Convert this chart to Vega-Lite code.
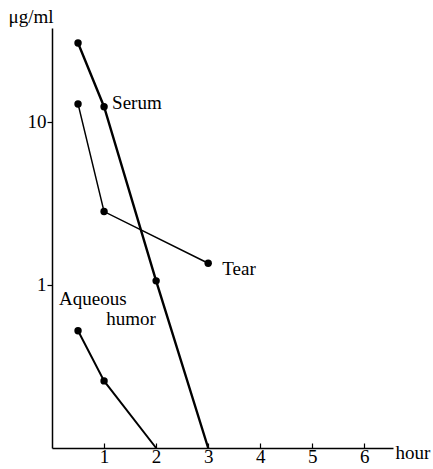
{
  "$schema": "https://vega.github.io/schema/vega-lite/v6.json",
  "width": 341,
  "height": 420,
  "autosize": {"type": "none"},
  "padding": {"left": 52, "top": 28, "right": 40, "bottom": 21},
  "background": "white",
  "config": {
    "view": {"stroke": null},
    "font": "Liberation Serif",
    "axis": {"grid": false, "domainColor": "black", "domainWidth": 1.5, "tickColor": "black", "tickWidth": 1.2, "labelColor": "black", "labelFont": "Liberation Serif", "labelFontSize": 19, "titleFont": "Liberation Serif", "titleFontSize": 19, "titleFontWeight": "normal", "titleColor": "black"}
  },
  "datasets": {
    "series": [
      {"series": "Serum", "hour": 0.5, "conc": 30.5},
      {"series": "Serum", "hour": 1, "conc": 12.4},
      {"series": "Serum", "hour": 2, "conc": 1.06},
      {"series": "Serum", "hour": 3, "conc": 0.1},
      {"series": "Tear", "hour": 0.5, "conc": 12.9},
      {"series": "Tear", "hour": 1, "conc": 2.82},
      {"series": "Tear", "hour": 3, "conc": 1.36},
      {"series": "Aqueous humor", "hour": 0.5, "conc": 0.524},
      {"series": "Aqueous humor", "hour": 1, "conc": 0.258},
      {"series": "Aqueous humor", "hour": 2, "conc": 0.1}
    ],
    "labels": [
      {"text": "Serum", "hour": 1.154, "conc": 12.0},
      {"text": "Tear", "hour": 3.27, "conc": 1.15},
      {"text": "Aqueous", "hour": 0.135, "conc": 0.754},
      {"text": "humor", "hour": 1.04, "conc": 0.568}
    ]
  },
  "layer": [
    {
      "data": {"name": "series"},
      "transform": [{"filter": "datum.series == 'Serum'"}],
      "mark": {"type": "line", "color": "black", "strokeWidth": 2.4},
      "encoding": {
        "x": {"field": "hour", "type": "quantitative", "scale": {"domain": [0, 6.55], "nice": false},
              "axis": {"values": [1, 2, 3, 4, 5, 6], "tickSize": -5, "labelPadding": 4, "title": "hour", "titleAlign": "left", "titleAnchor": "start", "titleX": 343, "titleY": 10, "titleBaseline": "alphabetic", "labelFlush": false}},
        "y": {"field": "conc", "type": "quantitative", "scale": {"type": "log", "domain": [0.1, 37.7], "nice": false},
              "axis": {"values": [1, 10], "tickSize": 5, "labelPadding": 1, "title": "μg/ml", "titleAngle": 0, "titleAlign": "left", "titleX": -44, "titleY": -6, "titleBaseline": "alphabetic"}},
        "order": {"field": "hour"}
      }
    },
    {
      "data": {"name": "series"},
      "transform": [{"filter": "datum.series == 'Tear'"}],
      "mark": {"type": "line", "color": "black", "strokeWidth": 1.5},
      "encoding": {
        "x": {"field": "hour", "type": "quantitative"},
        "y": {"field": "conc", "type": "quantitative"},
        "order": {"field": "hour"}
      }
    },
    {
      "data": {"name": "series"},
      "transform": [{"filter": "datum.series == 'Aqueous humor'"}],
      "mark": {"type": "line", "color": "black", "strokeWidth": 2.0},
      "encoding": {
        "x": {"field": "hour", "type": "quantitative"},
        "y": {"field": "conc", "type": "quantitative"},
        "order": {"field": "hour"}
      }
    },
    {
      "data": {"name": "series"},
      "transform": [{"filter": "datum.conc > 0.1"}],
      "mark": {"type": "circle", "color": "black", "opacity": 1, "size": 55},
      "encoding": {
        "x": {"field": "hour", "type": "quantitative"},
        "y": {"field": "conc", "type": "quantitative"}
      }
    },
    {
      "data": {"name": "labels"},
      "mark": {"type": "text", "align": "left", "baseline": "alphabetic", "fontSize": 19, "font": "Liberation Serif", "color": "black"},
      "encoding": {
        "x": {"field": "hour", "type": "quantitative"},
        "y": {"field": "conc", "type": "quantitative"},
        "text": {"field": "text"}
      }
    }
  ]
}
